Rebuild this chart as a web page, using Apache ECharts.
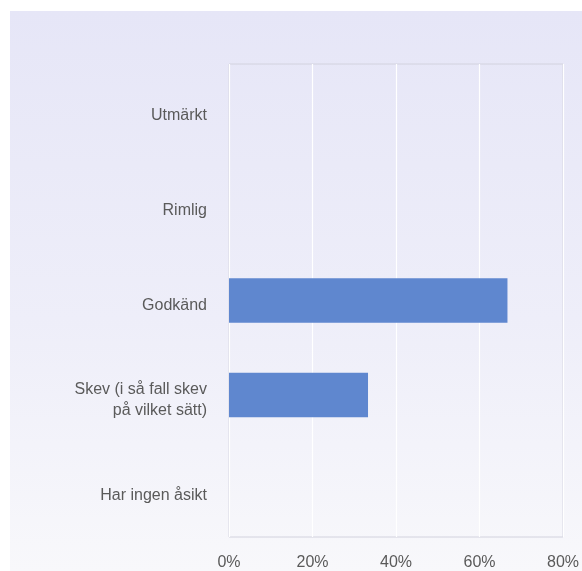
<!DOCTYPE html>
<html>
<head>
<meta charset="utf-8">
<script src="https://cdn.jsdelivr.net/npm/echarts@6/dist/echarts.min.js"></script>
<style>
html,body{margin:0;padding:0;background:#ffffff;}
#chart{width:582px;height:571px;}
</style>
</head>
<body>
<div id="chart"></div>
<script>
const categories = ["Utmärkt", "Rimlig", "Godkänd", "Skev (i så fall skev\npå vilket sätt)", "Har ingen åsikt"];
const values = [0, 0, 66.7, 33.3, 0];
const xTicks = [0, 20, 40, 60, 80];

const chart = echarts.init(document.getElementById('chart'), null, {renderer: 'canvas'});
const font = '"Liberation Sans", Arial, sans-serif';
chart.setOption({
  backgroundColor: '#ffffff',
  animation: false,
  graphic: [{
    type: 'rect',
    z: -10,
    shape: {x: 10, y: 11, width: 572, height: 560},
    style: {
      fill: new echarts.graphic.LinearGradient(0, 0, 0, 1, [
        {offset: 0, color: '#e6e6f7'},
        {offset: 0.55, color: '#eeeef9'},
        {offset: 1, color: '#f8f8fb'}
      ])
    }
  }],
  grid: [{
    left: 229, right: 14, top: 64, bottom: 32,
    show: true, borderColor: '#d2d2de', borderWidth: 1,
    backgroundColor: 'transparent'
  }, {
    left: 229, right: 14, top: 68, bottom: 28, show: false
  }],
  xAxis: [{
    type: 'value', gridIndex: 0,
    min: xTicks[0], max: xTicks[xTicks.length - 1], interval: 20,
    axisLine: {show: false},
    axisTick: {show: false},
    splitLine: {show: true, lineStyle: {color: '#ffffff', width: 1.2}},
    axisLabel: {
      formatter: v => v + '%',
      color: '#5a5a5a', fontSize: 16, fontFamily: font, margin: 18
    }
  }, {
    type: 'value', gridIndex: 1, show: false,
    min: xTicks[0], max: xTicks[xTicks.length - 1]
  }],
  yAxis: [{
    type: 'category', gridIndex: 0,
    inverse: true,
    data: categories,
    axisLine: {show: false},
    axisTick: {show: false},
    splitLine: {show: false},
    axisLabel: {show: false}
  }, {
    type: 'category', gridIndex: 1,
    inverse: true,
    data: categories,
    axisLine: {show: false},
    axisTick: {show: false},
    splitLine: {show: false},
    axisLabel: {
      color: '#5a5a5a', fontSize: 16, fontFamily: font, margin: 22,
      lineHeight: 21, align: 'right'
    }
  }],
  series: [{
    type: 'bar',
    xAxisIndex: 0, yAxisIndex: 0,
    data: values,
    barWidth: '47%',
    itemStyle: {color: '#5f87cf'}
  }]
});
</script>
</body>
</html>
